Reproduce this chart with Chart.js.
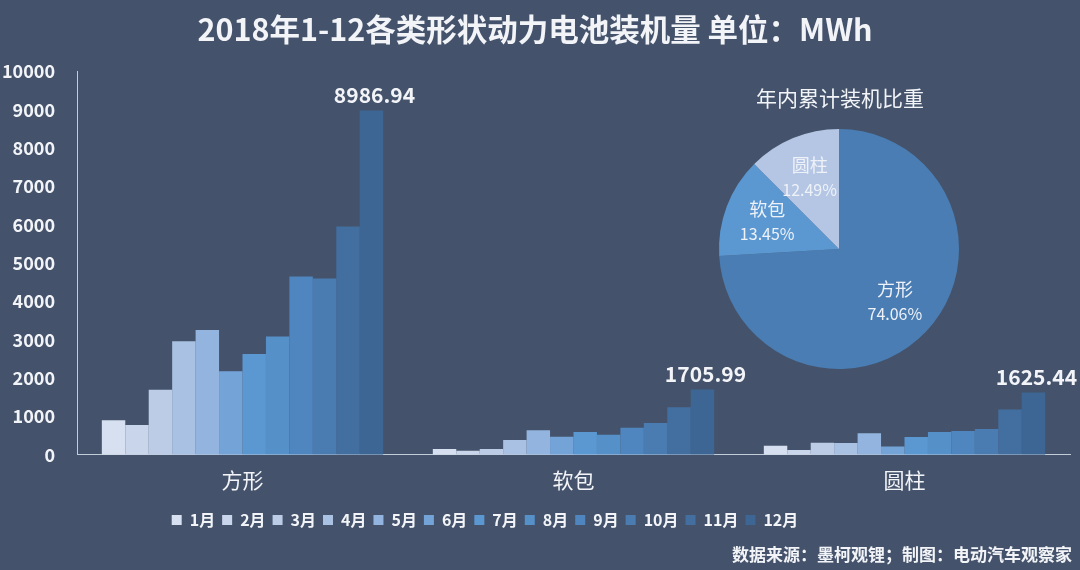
<!DOCTYPE html>
<html>
<head>
<meta charset="utf-8">
<script src="https://cdn.jsdelivr.net/npm/chart.js@4"></script>
<style>
  html, body { margin: 0; padding: 0; background: #44536b; }
  #wrap { position: relative; width: 1080px; height: 570px; overflow: hidden; }
  #barChart { position: absolute; left: 0; top: 0; }
  #pieChart { position: absolute; left: 717px; top: 127px; }
  #pieTitle { position: absolute; left: 700px; top: 82px; width: 280px; text-align: center;
    color: #f2f4f8; font: 21px "Noto Sans CJK SC", sans-serif; }
  #source { position: absolute; right: 8px; top: 541px; color: #f2f4f8;
    font: bold 17px "Noto Sans CJK SC", sans-serif; }
</style>
</head>
<body>
<div id="wrap">
  <canvas id="barChart" width="1080" height="570"></canvas>
  <div id="pieTitle">年内累计装机比重</div>
  <canvas id="pieChart" width="244" height="244"></canvas>
  <div id="source">数据来源：墨柯观锂；制图：电动汽车观察家</div>
</div>
<script>
// 电池形状 (x轴分类)
const shapes = ["方形", "软包", "圆柱"];
const months = ["1月", "2月", "3月", "4月", "5月", "6月", "7月", "8月", "9月", "10月", "11月", "12月"];

// 每月装机量 MWh，按形状
const prismatic = [900, 780, 1700, 2966, 3255, 2178, 2633, 3089, 4654, 4602, 5958, 8986.94];
const pouch = [150, 105, 150, 385, 639, 472, 595, 525, 709, 831, 1242, 1705.99];
const cylinder = [236, 122, 315, 305, 560, 219, 464, 595, 621, 674, 1181, 1625.44];

// 年内累计占比 %
const shareLabels = ["方形", "软包", "圆柱"];
const shareValues = [74.06, 13.45, 12.49];

const monthColors = [
  "#d6e0f0", "#c9d5ea", "#bccbe6", "#a9c1e2", "#93b4de", "#74a3d8",
  "#5b98d2", "#5690c8", "#4f86bf", "#4a7cb2", "#436fa0", "#3d6694",
];
const shareColors = ["#4a7db3", "#5b98d2", "#b4c6e4"];

const FONT = '"Noto Sans CJK SC", "Noto Sans", sans-serif';
const TEXT = "#f2f4f8";

// 12月柱顶上的数值
const topValuePlugin = {
  id: "topValue",
  afterDatasetsDraw(chart) {
    const ctx = chart.ctx;
    const last = chart.data.datasets.length - 1;
    const meta = chart.getDatasetMeta(last);
    ctx.save();
    ctx.font = "bold 21px " + FONT;
    ctx.fillStyle = TEXT;
    ctx.textAlign = "center";
    ctx.textBaseline = "bottom";
    meta.data.forEach((bar, i) => {
      const v = chart.data.datasets[last].data[i];
      ctx.fillText(v.toFixed(2), bar.x + 3, bar.y - 5);
    });
    ctx.restore();
  },
};

// 图例整体左移一点，和原图一致
const legendShift = {
  id: "legendShift",
  afterLayout(chart) {
    chart.legend.left -= 50;
    chart.legend.right -= 50;
  },
};

const barDatasets = months.map((m, i) => ({
  label: m,
  data: [prismatic[i], pouch[i], cylinder[i]],
  backgroundColor: monthColors[i],
  borderWidth: 0,
  barPercentage: 1.0,
  categoryPercentage: 0.85,
}));

new Chart(document.getElementById("barChart"), {
  type: "bar",
  data: { labels: shapes, datasets: barDatasets },
  options: {
    responsive: false,
    animation: false,
    devicePixelRatio: 1,
    layout: { padding: { left: 0, right: 10, top: 0, bottom: 32 } },
    scales: {
      x: {
        grid: { display: false },
        border: { display: true, color: "#c3ccd9", width: 1 },
        afterFit: (scale) => { scale.height += 7; },
        ticks: { color: TEXT, font: { family: FONT, size: 21 }, padding: 5 },
      },
      y: {
        min: 0,
        max: 10000,
        grid: { display: false },
        border: { display: true, color: "#c3ccd9", width: 1 },
        afterFit: (scale) => { scale.width = 77; },
        ticks: {
          stepSize: 1000,
          color: TEXT,
          padding: 14,
          font: { family: FONT, size: 18, weight: "bold" },
          callback: (v) => String(v),
        },
      },
    },
    plugins: {
      title: {
        display: true,
        text: "2018年1-12各类形状动力电池装机量 单位：MWh",
        color: TEXT,
        font: { family: FONT, size: 30.5, weight: "bold" },
        padding: { top: 11, bottom: 24 },
      },
      legend: {
        position: "bottom",
        labels: {
          color: TEXT,
          boxWidth: 10,
          boxHeight: 10,
          padding: 7,
          font: { family: FONT, size: 16, weight: "bold" },
        },
      },
      tooltip: { enabled: false },
    },
  },
  plugins: [topValuePlugin, legendShift],
});

// 饼图内的标签
const pieLabelPlugin = {
  id: "pieLabels",
  afterDatasetsDraw(chart) {
    const ctx = chart.ctx;
    const meta = chart.getDatasetMeta(0);
    ctx.save();
    ctx.fillStyle = "#eef2f8";
    ctx.textAlign = "center";
    ctx.textBaseline = "middle";
    meta.data.forEach((arc, i) => {
      const mid = (arc.startAngle + arc.endAngle) / 2;
      const r = arc.outerRadius * 0.64;
      const x = arc.x + Math.cos(mid) * r;
      const y = arc.y + Math.sin(mid) * r;
      ctx.font = "18px " + FONT;
      ctx.fillText(shareLabels[i], x, y - 13);
      ctx.font = "16px " + FONT;
      ctx.fillText(shareValues[i].toFixed(2) + "%", x, y + 12);
    });
    ctx.restore();
  },
};

new Chart(document.getElementById("pieChart"), {
  type: "pie",
  data: {
    labels: shareLabels,
    datasets: [{ data: shareValues, backgroundColor: shareColors, borderWidth: 0 }],
  },
  options: {
    responsive: false,
    animation: false,
    devicePixelRatio: 1,
    layout: { padding: 2 },
    plugins: { legend: { display: false }, tooltip: { enabled: false } },
  },
  plugins: [pieLabelPlugin],
});
</script>
</body>
</html>
